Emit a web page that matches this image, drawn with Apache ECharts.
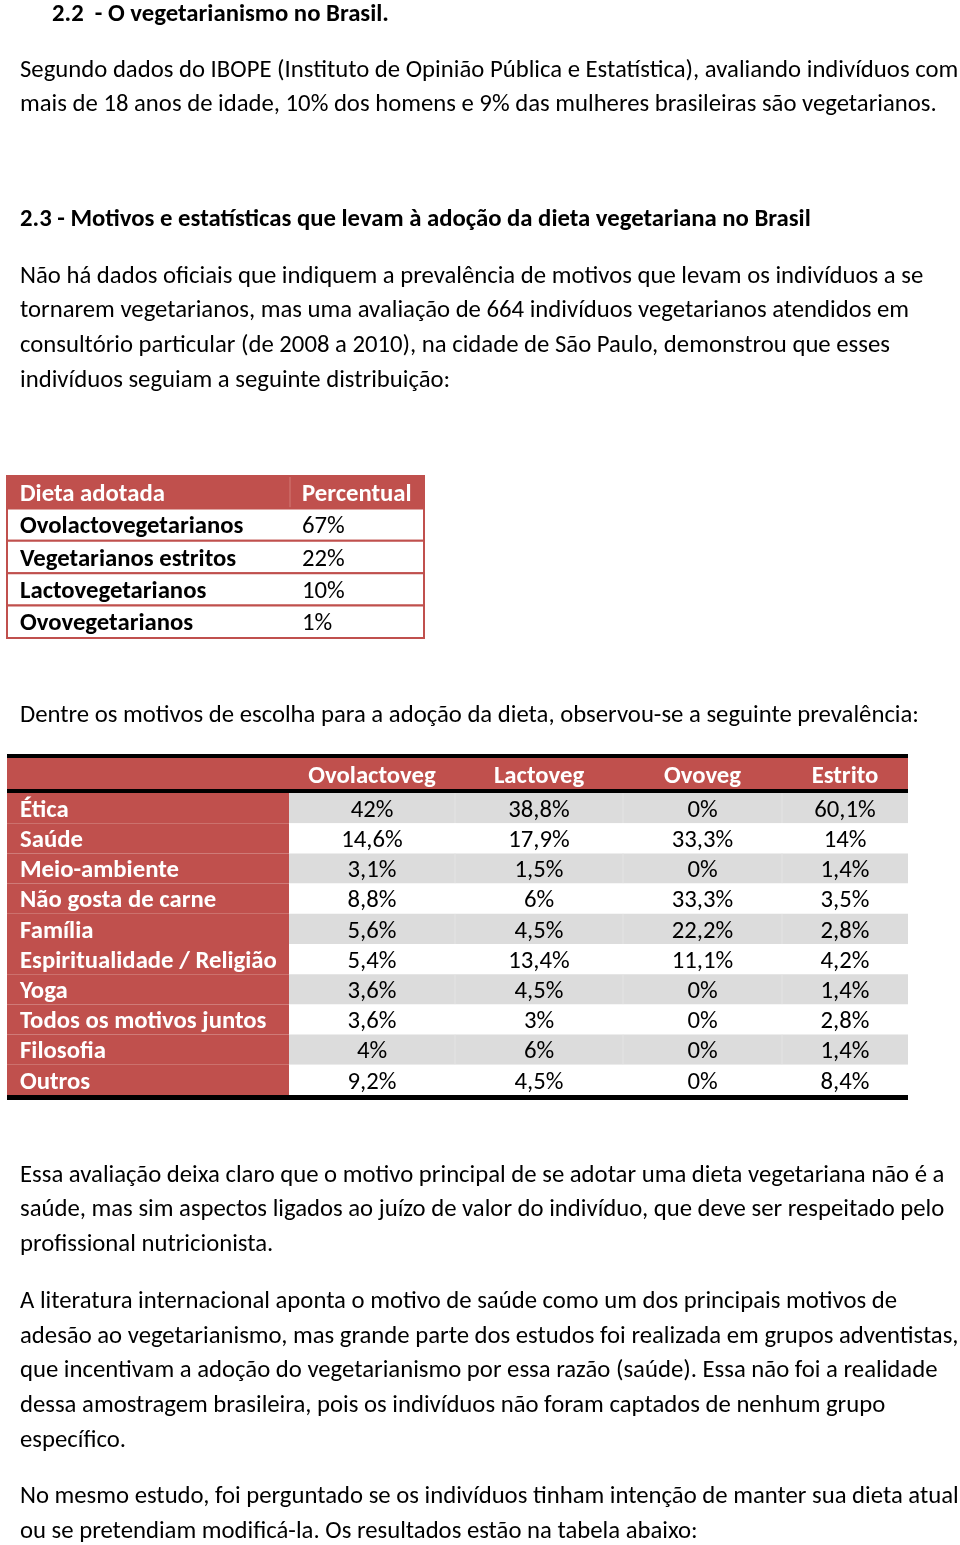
<!DOCTYPE html>
<html><head><meta charset="utf-8">
<script src="https://cdn.jsdelivr.net/npm/echarts@6/dist/echarts.min.js"></script>
<style>html,body{margin:0;padding:0;background:#fff}#c{width:960px;height:1545px}</style>
</head><body><div id="c"></div>
<script>
// ---------- DATA ----------
const dietHeader = ['Dieta adotada', 'Percentual'];
const dietCategories = ['Ovolactovegetarianos', 'Vegetarianos estritos', 'Lactovegetarianos', 'Ovovegetarianos'];
const dietPercent = [67, 22, 10, 1];

const motiveColumns = ['Ovolactoveg', 'Lactoveg', 'Ovoveg', 'Estrito'];
const motives = ['Ética', 'Saúde', 'Meio-ambiente', 'Não gosta de carne', 'Família',
  'Espiritualidade / Religião', 'Yoga', 'Todos os motivos juntos', 'Filosofia', 'Outros'];
const ovolactoveg = [42, 14.6, 3.1, 8.8, 5.6, 5.4, 3.6, 3.6, 4, 9.2];
const lactoveg    = [38.8, 17.9, 1.5, 6, 4.5, 13.4, 4.5, 3, 6, 4.5];
const ovoveg      = [0, 33.3, 0, 33.3, 22.2, 11.1, 0, 0, 0, 0];
const estrito     = [60.1, 14, 1.4, 3.5, 2.8, 4.2, 1.4, 2.8, 1.4, 8.4];

const heading1 = '2.2  - O vegetarianismo no Brasil.';
const para1 = ['Segundo dados do IBOPE (Instituto de Opinião Pública e Estatística), avaliando indivíduos com',
  'mais de 18 anos de idade, 10% dos homens e 9% das mulheres brasileiras são vegetarianos.'];
const heading2 = '2.3 - Motivos e estatísticas que levam à adoção da dieta vegetariana no Brasil';
const para2 = ['Não há dados oficiais que indiquem a prevalência de motivos que levam os indivíduos a se',
  'tornarem vegetarianos, mas uma avaliação de 664 indivíduos vegetarianos atendidos em',
  'consultório particular (de 2008 a 2010), na cidade de São Paulo, demonstrou que esses',
  'indivíduos seguiam a seguinte distribuição:'];
const para3 = ['Dentre os motivos de escolha para a adoção da dieta, observou-se a seguinte prevalência:'];
const para4 = ['Essa avaliação deixa claro que o motivo principal de se adotar uma dieta vegetariana não é a',
  'saúde, mas sim aspectos ligados ao juízo de valor do indivíduo, que deve ser respeitado pelo',
  'profissional nutricionista.'];
const para5 = ['A literatura internacional aponta o motivo de saúde como um dos principais motivos de',
  'adesão ao vegetarianismo, mas grande parte dos estudos foi realizada em grupos adventistas,',
  'que incentivam a adoção do vegetarianismo por essa razão (saúde). Essa não foi a realidade',
  'dessa amostragem brasileira, pois os indivíduos não foram captados de nenhum grupo',
  'específico.'];
const para6 = ['No mesmo estudo, foi perguntado se os indivíduos tinham intenção de manter sua dieta atual',
  'ou se pretendiam modificá-la. Os resultados estão na tabela abaixo:'];

// ---------- STYLE / LAYOUT ----------
const FAMILY = 'Carlito, Lato, "Noto Sans", sans-serif';
const RED = '#c0504d';
const GRAY = '#dcdcdc';
const DY = 2.5; // vertical text offset
const cv = document.createElement('canvas').getContext('2d');
function fitSize(text, weight, target) {
  cv.font = weight + ' 22px ' + FAMILY;
  return 22 * target / cv.measureText(text).width;
}
const FS = fitSize(para1[1], 'normal', 917);
const FSB = fitSize(heading2, 'bold', 791);
const fmt = v => String(v).replace('.', ',') + '%';

const graphics = [];
function addText(t, x, y, bold) {
  graphics.push({ type: 'text', x: x, y: y + DY, silent: true,
    style: { text: t, fill: '#000', font: (bold ? 'bold ' + FSB : 'normal ' + FS) + 'px ' + FAMILY,
      align: 'left', verticalAlign: 'middle' } });
}
function addLines(lines, ys) { lines.forEach((l, i) => addText(l, 20, ys[i], false)); }
addText(heading1, 52, 12, true);
addLines(para1, [68, 102]);
addText(heading2, 20, 217, true);
addLines(para2, [274, 308, 343, 378]);
addLines(para3, [713]);
addLines(para4, [1173, 1207, 1242]);
addLines(para5, [1299, 1334, 1368, 1403, 1438]);
addLines(para6, [1494, 1529]);
// thick black rules of table 2
[[754, 4], [789, 4], [1095, 5]].forEach(([y, h]) =>
  graphics.push({ type: 'rect', silent: true, shape: { x: 7, y: y, width: 901, height: h }, style: { fill: '#000' } }));

// table 1 rows (header + body)
const t1Rows = [[dietHeader[0], dietHeader[1]]].concat(dietCategories.map((c, i) => [c, dietPercent[i] + '%']));
const t1Edges = [0, 283, 417];
// table 2 body columns
const t2Cols = [ovolactoveg, lactoveg, ovoveg, estrito];
const t2Edges = [0, 282, 448, 616, 775, 901];

function cellFont(bold) { return (bold ? 'bold ' + FSB : 'normal ' + FS) + 'px ' + FAMILY; }

const option = {
  animation: false,
  grid: [
    { left: 7, top: 476, width: 417, height: 162 },
    { left: 7, top: 758, width: 901, height: 31 },
    { left: 7, top: 793, width: 901, height: 302 }
  ],
  xAxis: [0, 1, 2].map(i => ({ type: 'value', gridIndex: i, min: 0, max: i === 0 ? 417 : 901, show: false })),
  yAxis: [
    { type: 'category', gridIndex: 0, inverse: true, data: t1Rows.map(r => r[0]), show: false },
    { type: 'category', gridIndex: 1, inverse: true, data: ['header'], show: false },
    { type: 'category', gridIndex: 2, inverse: true, data: motives, show: false }
  ],
  series: [
    { type: 'custom', xAxisIndex: 0, yAxisIndex: 0, silent: true,
      data: t1Rows.map((r, i) => [0, i]),
      renderItem: function (params, api) {
        const r = api.value(1);
        const row = t1Rows[r];
        const c = api.coord([0, r]);
        const h = api.size([0, 1])[1];
        const x0 = api.coord([t1Edges[0], r])[0], x1 = api.coord([t1Edges[1], r])[0], x2 = api.coord([t1Edges[2], r])[0];
        const head = r === 0;
        const ch = [
          { type: 'rect', shape: { x: x0, y: c[1] - h / 2, width: x2 - x0, height: h },
            style: { fill: head ? RED : '#fff', stroke: RED, lineWidth: 2 } },
          { type: 'text', style: { text: row[0], x: x0 + 13, y: c[1] + DY, verticalAlign: 'middle',
            fill: head ? '#fff' : '#000', font: cellFont(true) } },
          { type: 'text', style: { text: row[1], x: x1 + 12, y: c[1] + DY, verticalAlign: 'middle',
            fill: head ? '#fff' : '#000', font: cellFont(head) } }
        ];
        if (head) ch.push({ type: 'line', shape: { x1: x1, y1: c[1] - h / 2 + 1, x2: x1, y2: c[1] + h / 2 - 1 },
          style: { stroke: '#d27a77', lineWidth: 1 } });
        return { type: 'group', children: ch };
      }
    },
    { type: 'custom', xAxisIndex: 1, yAxisIndex: 1, silent: true,
      data: [[0, 0]],
      renderItem: function (params, api) {
        const c = api.coord([0, 0]);
        const h = api.size([0, 1])[1];
        const X = e => api.coord([e, 0])[0];
        const ch = [{ type: 'rect', shape: { x: X(0), y: c[1] - h / 2, width: X(901) - X(0), height: h }, style: { fill: RED } }];
        motiveColumns.forEach((m, j) => ch.push({ type: 'text', style: { text: m,
          x: (X(t2Edges[j + 1]) + X(t2Edges[j + 2])) / 2, y: c[1] + 1 + DY, align: 'center', verticalAlign: 'middle',
          fill: '#fff', font: cellFont(true) } }));
        return { type: 'group', children: ch };
      }
    },
    { type: 'custom', xAxisIndex: 2, yAxisIndex: 2, silent: true,
      data: motives.map((m, i) => [0, i]),
      renderItem: function (params, api) {
        const r = api.value(1);
        const c = api.coord([0, r]);
        const h = api.size([0, 1])[1];
        const X = e => api.coord([e, r])[0];
        const y0 = c[1] - h / 2;
        const ch = [
          { type: 'rect', shape: { x: X(0), y: y0, width: X(t2Edges[1]) - X(0), height: h }, style: { fill: RED } },
          { type: 'rect', shape: { x: X(t2Edges[1]), y: y0, width: X(901) - X(t2Edges[1]), height: h },
            style: { fill: r % 2 === 0 ? GRAY : '#fff' } },
          { type: 'text', style: { text: motives[r], x: X(0) + 13, y: c[1] + DY, verticalAlign: 'middle',
            fill: '#fff', font: cellFont(true) } }
        ];
        if (r % 2 === 0) [2, 3, 4].forEach(k => ch.push({ type: 'line',
          shape: { x1: X(t2Edges[k]), y1: y0, x2: X(t2Edges[k]), y2: y0 + h }, style: { stroke: '#e4e4e4', lineWidth: 1 } }));
        t2Cols.forEach((col, j) => ch.push({ type: 'text', style: { text: fmt(col[r]),
          x: (X(t2Edges[j + 1]) + X(t2Edges[j + 2])) / 2, y: c[1] + DY, align: 'center', verticalAlign: 'middle',
          fill: '#000', font: cellFont(false) } }));
        return { type: 'group', children: ch };
      }
    }
  ],
  graphic: graphics
};
const chart = echarts.init(document.getElementById('c'));
chart.setOption(option);
</script></body></html>
